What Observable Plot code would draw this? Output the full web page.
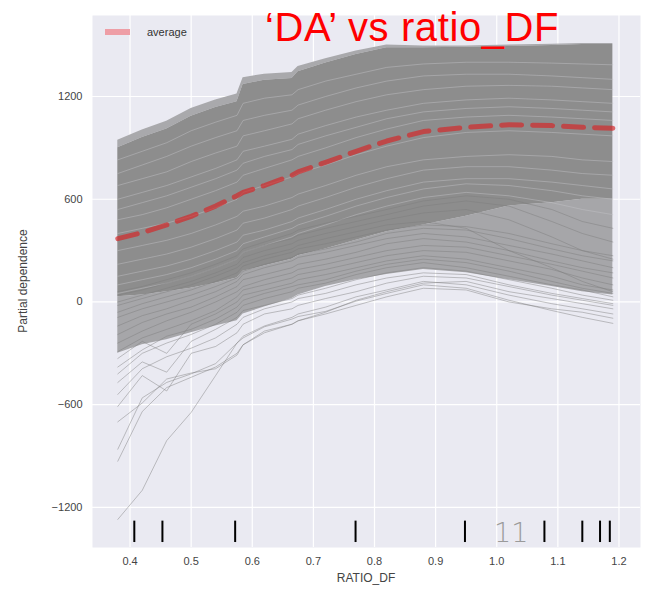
<!DOCTYPE html>
<html>
<head>
<meta charset="utf-8">
<script src="https://cdn.jsdelivr.net/npm/d3@7"></script>
<script src="https://cdn.jsdelivr.net/npm/@observablehq/plot@0.6"></script>
<style>
  body { margin: 0; background: #fff; }
  #wrap { position: relative; width: 646px; height: 591px; font-family: "Liberation Sans", Arial, sans-serif; }
  #wrap svg { position: absolute; left: 0; top: 0; }
  .ov { position: absolute; white-space: nowrap; }
</style>
</head>
<body>
<div id="wrap"></div>
<script>
// ---- data ----
const xs = [0.38, 0.42, 0.46, 0.50, 0.54, 0.575, 0.585, 0.62, 0.665, 0.675, 0.72, 0.77, 0.82, 0.88, 0.95, 1.02, 1.09, 1.14, 1.19];
// upper envelope of the ICE curves
const bandTop = [945, 1005, 1055, 1130, 1180, 1215, 1310, 1330, 1340, 1375, 1420, 1465, 1500, 1495, 1495, 1500, 1505, 1510, 1510];
// top of the solid part (just under the thin fringe of upper curves)
const coreTop = [900, 960, 1010, 1085, 1135, 1170, 1270, 1295, 1305, 1345, 1395, 1445, 1485, 1485, 1488, 1492, 1498, 1503, 1503];
// lower edge of the solid (densest) part
const coreLow = [30, 40, 60, 80, 110, 140, 180, 210, 250, 270, 310, 360, 410, 450, 500, 560, 580, 600, 600];
// lower edge of the medium-density part
const semiLow = [-300, -250, -220, -180, -140, -110, -70, -30, 20, 40, 90, 130, 160, 190, 170, 130, 90, 60, 40];
// average partial dependence
const average = [370, 405, 450, 500, 560, 620, 640, 680, 740, 760, 815, 880, 940, 995, 1020, 1035, 1030, 1020, 1015];
// individual (sparse) ICE curves
const iceLow = [
  [-1270, -1100, -810, -645, -430, -240, -210, -145, -100, -85, -55, 5, 50, 100, 80, 10, -50, -90, -125],
  [-930, -640, -500, -440, -380, -300, -250, -180, -130, -110, -70, -20, 30, 80, 70, 0, -40, -60, -95],
  [-860, -560, -470, -420, -360, -240, -200, -140, -90, -70, -30, 30, 70, 120, 100, 40, -10, -40, -70],
  [-700, -590, -450, -415, -390, -310, -250, -170, -130, -110, -60, 10, 60, 110, 120, 60, 20, -10, -40],
  [-610, -430, -520, -300, -260, -180, -130, -70, -40, -20, 20, 60, 110, 150, 140, 90, 40, 10, -20],
  [-540, -390, -320, -270, -210, -130, -90, -40, 0, 20, 50, 100, 140, 170, 160, 100, 50, 20, -10],
  [-470, -350, -410, -230, -160, -90, -50, -20, 20, 40, 80, 130, 170, 200, 180, 130, 80, 40, 10],
  [-420, -300, -240, -190, -130, -60, -20, 20, 60, 80, 110, 160, 200, 230, 200, 150, 100, 70, 30],
  [-380, -280, -200, -160, -100, -30, 10, 50, 90, 100, 130, 180, 220, 250, 230, 180, 120, 80, 50],
  [-330, -230, -300, -130, -70, 0, 40, 70, 110, 130, 160, 200, 240, 270, 250, 200, 150, 100, 70],
  [-290, -210, -160, -110, -50, 30, 70, 100, 140, 160, 190, 230, 270, 300, 290, 240, 190, 140, 100],
  [-240, -170, -110, -60, 0, 60, 90, 130, 170, 190, 220, 260, 300, 330, 320, 270, 220, 180, 140],
  [-190, -120, -70, -30, 30, 90, 130, 160, 200, 220, 250, 290, 340, 370, 350, 300, 240, 200, 170],
  [-140, -80, -40, 10, 60, 120, 160, 200, 240, 260, 290, 330, 370, 400, 380, 330, 280, 240, 200],
  [-90, -40, 0, 40, 90, 140, 180, 220, 260, 280, 310, 350, 400, 430, 420, 370, 310, 270, 240],
  [-60, -10, 30, 70, 120, 170, 210, 250, 290, 310, 340, 380, 420, 450, 440, 400, 340, 300, 270],
  [-20, 20, 60, 100, 150, 200, 230, 270, 310, 330, 370, 410, 450, 470, 430, 300, 200, 120, 60],
  [0, 40, 80, 120, 170, 220, 260, 300, 340, 360, 400, 440, 480, 520, 540, 480, 380, 300, 250],
  [40, 70, 110, 150, 200, 250, 290, 330, 370, 390, 430, 470, 510, 560, 590, 560, 470, 400, 350],
  [60, 90, 130, 170, 220, 270, 310, 350, 400, 420, 460, 500, 540, 590, 620, 600, 540, 470, 430]
];
// lighter streaks inside the dense part
const iceStreaks = [
  [300, 330, 360, 400, 450, 500, 530, 560, 610, 630, 680, 740, 790, 830, 850, 860, 850, 830, 820],
  [600, 640, 680, 730, 780, 830, 880, 910, 950, 980, 1030, 1080, 1120, 1160, 1180, 1190, 1180, 1170, 1160],
  [150, 180, 210, 250, 300, 350, 390, 420, 470, 490, 540, 600, 650, 700, 720, 720, 700, 680, 660],
  [480, 510, 550, 600, 650, 700, 740, 780, 830, 850, 900, 960, 1010, 1060, 1080, 1090, 1080, 1070, 1060],
  [750, 800, 850, 910, 960, 1000, 1060, 1090, 1120, 1150, 1200, 1250, 1290, 1320, 1330, 1330, 1320, 1310, 1300],
  [50, 80, 110, 150, 200, 250, 290, 330, 380, 400, 450, 510, 560, 610, 640, 620, 580, 540, 510],
  [220, 250, 280, 320, 370, 420, 460, 490, 540, 560, 610, 670, 720, 770, 790, 790, 770, 750, 740],
  [680, 720, 760, 820, 870, 910, 970, 1000, 1040, 1070, 1120, 1170, 1210, 1240, 1260, 1265, 1260, 1250, 1240],
  [400, 430, 460, 500, 550, 600, 640, 680, 730, 750, 800, 860, 910, 960, 990, 1000, 990, 980, 970],
  [830, 880, 930, 1000, 1050, 1090, 1160, 1190, 1210, 1240, 1290, 1330, 1370, 1390, 1400, 1400, 1395, 1390, 1385],
  [100, 130, 160, 200, 250, 300, 340, 380, 430, 450, 500, 560, 610, 660, 690, 680, 650, 620, 600],
  [540, 580, 620, 670, 720, 770, 810, 850, 890, 920, 970, 1020, 1070, 1110, 1130, 1140, 1130, 1120, 1110]
];
// deciles of RATIO_DF (rug)
const deciles = [0.407, 0.453, 0.572, 0.769, 0.948, 1.078, 1.140, 1.169, 1.185];
const xTicks = [0.4, 0.5, 0.6, 0.7, 0.8, 0.9, 1.0, 1.1, 1.2];
const yTicks = [-1200, -600, 0, 600, 1200];
const titleText = "\u2018DA\u2019 vs ratio_DF";
const xLabel = "RATIO_DF";
const yLabel = "Partial dependence";
const legendLabel = "average";
const slideNumber = "11";

// ---- build tables ----
const band = xs.map((x, i) => ({x, top: bandTop[i], ctop: coreTop[i], core: coreLow[i], semi: semiLow[i], avg: average[i]}));
const toRows = (arr) => arr.flatMap((t, k) => t.map((v, i) => ({id: k, x: xs[i], y: v})));
const lowRows = toRows(iceLow);
const streakRows = toRows(iceStreaks);

const chart = Plot.plot({
  width: 646,
  height: 591,
  marginLeft: 92,
  marginRight: 6,
  marginTop: 15,
  marginBottom: 44,
  style: {fontFamily: "Liberation Sans, Arial, sans-serif", fontSize: "11px", color: "#444", background: "transparent"},
  x: {domain: [0.3386, 1.2352]},
  y: {domain: [-1434, 1673]},
  marks: [
    Plot.frame({fill: "#eaeaf2", stroke: null}),
    Plot.gridX(xTicks, {stroke: "#fff", strokeOpacity: 1, strokeWidth: 1.2}),
    Plot.gridY(yTicks, {stroke: "#fff", strokeOpacity: 1, strokeWidth: 1.2}),
    Plot.areaY(band, {x: "x", y1: "semi", y2: "core", fill: "#a6a6a9"}),
    Plot.areaY(band, {x: "x", y1: "ctop", y2: "top", fill: "#a9a9ac"}),
    Plot.areaY(band, {x: "x", y1: "core", y2: "ctop", fill: "#8d8d8d"}),
    Plot.line(streakRows, {x: "x", y: "y", z: "id", stroke: "#c4c4c8", strokeOpacity: 0.45, strokeWidth: 1}),
    Plot.line(lowRows, {x: "x", y: "y", z: "id", stroke: "#7c7c7c", strokeOpacity: 0.45, strokeWidth: 1}),
    Plot.line(band, {x: "x", y: "avg", stroke: "#d62728", strokeOpacity: 0.68, strokeWidth: 5, strokeDasharray: "20,11"}),
    Plot.ruleX(deciles, {y1: -1280, y2: -1405, stroke: "#000", strokeWidth: 2}),
    Plot.axisX(xTicks, {tickSize: 0, tickPadding: 10, tickFormat: d3.format(".1f"), label: null, fill: "#444"}),
    Plot.axisY(yTicks, {tickSize: 0, tickPadding: 10, tickFormat: d3.format("d"), label: null, fill: "#444"})
  ]
});

const wrap = document.getElementById("wrap");
wrap.appendChild(chart);

function ov(text, css) {
  const d = document.createElement("div");
  d.className = "ov";
  d.textContent = text;
  Object.assign(d.style, css);
  wrap.appendChild(d);
  return d;
}
// title (overlaps the panel)
ov(titleText, {left: "265px", top: "4px", fontSize: "40px", letterSpacing: "0.6px", color: "#ff0000", lineHeight: "46px"});
// legend
const sw = document.createElement("div");
Object.assign(sw.style, {position: "absolute", left: "105px", top: "29px", width: "25px", height: "6px", background: "#ee9ea6"});
wrap.appendChild(sw);
ov(legendLabel, {left: "147px", top: "25px", fontSize: "11px", color: "#333", lineHeight: "14px"});
// axis labels
ov(xLabel, {left: "0px", width: "732px", textAlign: "center", top: "571px", fontSize: "12px", color: "#444"});
ov(yLabel, {left: "23px", top: "281px", fontSize: "12px", color: "#444", transform: "translate(-50%, -50%) rotate(-90deg)"});
// slide number near the bottom of the panel
ov(slideNumber, {left: "494px", top: "518px", fontSize: "27px", color: "#9a9a9a", lineHeight: "30px", fontFamily: "DejaVu Sans, sans-serif", fontWeight: "200"});
</script>
</body>
</html>
